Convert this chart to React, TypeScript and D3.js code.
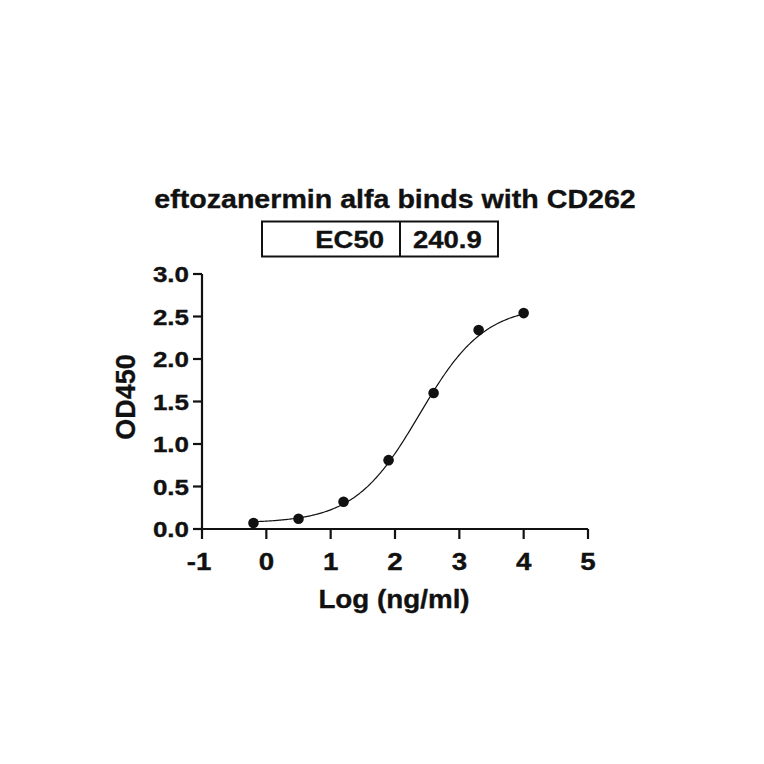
import React from "react";
import * as d3 from "d3";

const TITLE = "eftozanermin alfa binds with CD262";
const EC50_LABEL = "EC50";
const EC50_VALUE = 240.9;
const X_LABEL = "Log (ng/ml)";
const Y_LABEL = "OD450";

const logConc = [-0.2, 0.5, 1.2, 1.9, 2.6, 3.3, 4.0];
const od450 = [0.07, 0.12, 0.32, 0.81, 1.6, 2.34, 2.54];

const xTicks = [-1, 0, 1, 2, 3, 4, 5];
const yTicks = [0, 0.5, 1.0, 1.5, 2.0, 2.5, 3.0];

// 4PL fit parameters
const FIT_BOTTOM = 0.07;
const FIT_TOP = 2.63;
const FIT_HILL = 0.86;
const FIT_LOGEC50 = Math.log10(EC50_VALUE);

const W = 764;
const H = 764;
const FONT = "'Liberation Sans', Arial, Helvetica, sans-serif";
const INK = "#111";

export default function App() {
  const x = d3.scaleLinear().domain([-1, 5]).range([202, 588]);
  const y = d3.scaleLinear().domain([0, 3]).range([529, 274]);

  const fit = (v: number) =>
    FIT_BOTTOM + (FIT_TOP - FIT_BOTTOM) / (1 + Math.pow(10, (FIT_LOGEC50 - v) * FIT_HILL));
  const xs = d3.range(0, 201).map((i) => logConc[0] + (i / 200) * (logConc[logConc.length - 1] - logConc[0]));
  const line = d3
    .line<number>()
    .x((d) => x(d))
    .y((d) => y(fit(d)))
    .curve(d3.curveLinear);

  const x0 = x.range()[0];
  const y0 = y.range()[0];
  const textStyle = { stroke: INK, strokeWidth: 0.35 } as const;

  return (
    <svg
      width={W}
      height={H}
      viewBox={`0 0 ${W} ${H}`}
      style={{ position: "absolute", left: 0, top: 0, background: "#fff" }}
      fontFamily={FONT}
      fontWeight="bold"
    >
      <rect x={0} y={0} width={W} height={H} fill="#fff" />
      {/* Title */}
      <text transform="translate(395,208) scale(1.1,1)" textAnchor="middle" fontSize={26} fill={INK} {...textStyle}>
        {TITLE}
      </text>
      {/* EC50 box */}
      <rect x={262} y={221.5} width={236} height={35} fill="none" stroke={INK} strokeWidth={2} />
      <line x1={400} x2={400} y1={221.5} y2={256.5} stroke={INK} strokeWidth={2} />
      <text transform="translate(384,247.5) scale(1.17,1)" textAnchor="end" fontSize={23.5} fill={INK} {...textStyle}>
        {EC50_LABEL}
      </text>
      <text transform="translate(413,247.5) scale(1.17,1)" textAnchor="start" fontSize={23.5} fill={INK} {...textStyle}>
        {EC50_VALUE.toFixed(1)}
      </text>

      {/* Y axis */}
      <line x1={x0} x2={x0} y1={y(3)} y2={y0} stroke={INK} strokeWidth={2.2} />
      {yTicks.map((t) => (
        <g key={"y" + t}>
          <line x1={x0 - 9} x2={x0} y1={y(t)} y2={y(t)} stroke={INK} strokeWidth={2.2} />
          <text
            transform={`translate(189,${y(t) + 8}) scale(1.18,1)`}
            textAnchor="end"
            fontSize={22}
            fill={INK}
            {...textStyle}
          >
            {t.toFixed(1)}
          </text>
        </g>
      ))}
      {/* X axis */}
      <line x1={x0} x2={x(5)} y1={y0} y2={y0} stroke={INK} strokeWidth={2.2} />
      {xTicks.map((t) => (
        <g key={"x" + t}>
          <line x1={x(t)} x2={x(t)} y1={y0} y2={y0 + 10} stroke={INK} strokeWidth={2.2} />
          <text
            transform={`translate(${x(t) - (t < 0 ? 3 : 0)},569.5) scale(1.18,1)`}
            textAnchor="middle"
            fontSize={23.5}
            fill={INK}
            {...textStyle}
          >
            {t}
          </text>
        </g>
      ))}

      {/* Axis titles */}
      <text transform="translate(394,608) scale(1.09,1)" textAnchor="middle" fontSize={25.5} fill={INK} {...textStyle}>
        {X_LABEL}
      </text>
      <text transform="translate(135,397) rotate(-90)" textAnchor="middle" fontSize={27} fill={INK} {...textStyle}>
        {Y_LABEL}
      </text>

      {/* Fit curve */}
      <path d={line(xs) || ""} fill="none" stroke={INK} strokeWidth={1.2} />
      {/* Points */}
      {logConc.map((c, i) => (
        <circle key={"p" + i} cx={x(c)} cy={y(od450[i])} r={5.3} fill={INK} />
      ))}
    </svg>
  );
}
